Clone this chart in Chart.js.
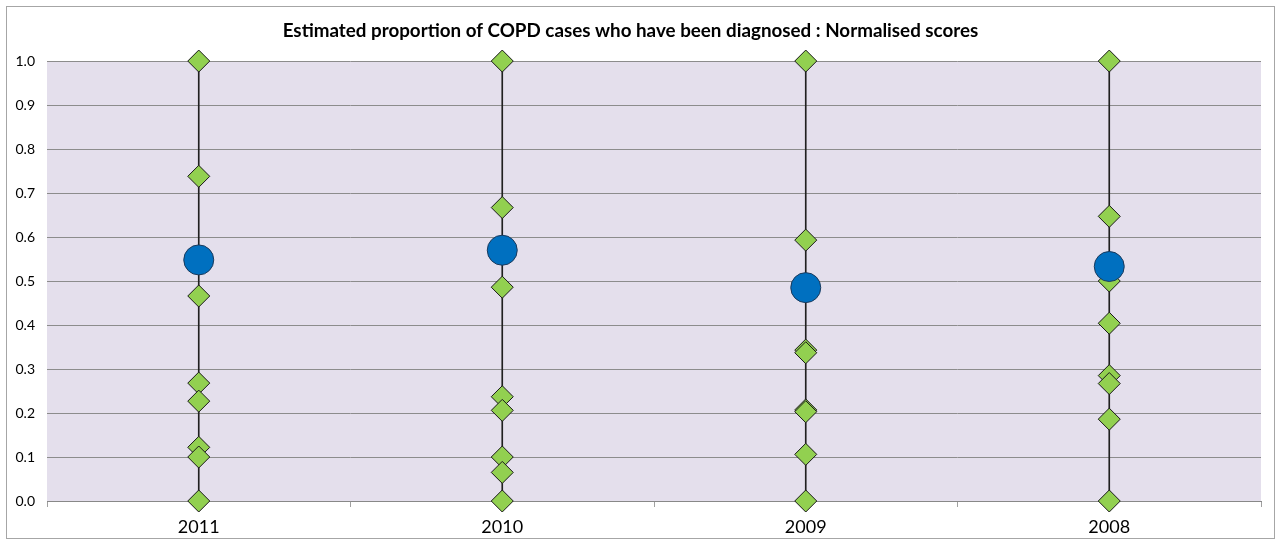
<!DOCTYPE html>
<html>
<head>
<meta charset="utf-8">
<script src="https://cdn.jsdelivr.net/npm/chart.js@4/dist/chart.umd.min.js"></script>
<style>
  html, body { margin: 0; padding: 0; background: #fff; }
  canvas { display: block; }
</style>
</head>
<body>
<canvas id="c" width="1277" height="543"></canvas>
<script>
// ---- Data ----
const titleText = 'Estimated proportion of COPD cases who have been diagnosed : Normalised scores';
const categories = ['2011', '2010', '2009', '2008'];
const scores2011 = [1.0, 0.738, 0.466, 0.268, 0.227, 0.122, 0.100, 0.0];
const scores2010 = [1.0, 0.667, 0.486, 0.237, 0.206, 0.100, 0.065, 0.0];
const scores2009 = [1.0, 0.593, 0.343, 0.337, 0.207, 0.203, 0.106, 0.0];
const scores2008 = [1.0, 0.647, 0.500, 0.404, 0.285, 0.267, 0.186, 0.0];
const overallScore = [0.548, 0.570, 0.485, 0.533];
const yTicks = [0.0, 0.1, 0.2, 0.3, 0.4, 0.5, 0.6, 0.7, 0.8, 0.9, 1.0];

const scoreSets = [scores2011, scores2010, scores2009, scores2008];
const rangeData = scoreSets.map(s => [Math.min(...s), Math.max(...s)]);
const diamondPoints = [];
scoreSets.forEach((s, i) => s.forEach(v => diamondPoints.push({ x: categories[i], y: v })));

const plotBg = {
  id: 'plotBg',
  beforeDraw(chart) {
    const { ctx, chartArea: a } = chart;
    ctx.save();
    ctx.fillStyle = '#E4DFEC';
    ctx.fillRect(a.left, a.top, a.right - a.left, a.bottom - a.top);
    ctx.restore();
  },
  afterDraw(chart) {
    const ctx = chart.ctx;
    ctx.save();
    ctx.strokeStyle = '#A6A6A6';
    ctx.lineWidth = 1;
    ctx.strokeRect(6.5, 6.5, 1268, 532);
    ctx.restore();
  }
};

new Chart(document.getElementById('c'), {
  type: 'bar',
  data: {
    labels: categories,
    datasets: [
      {
        type: 'line',
        label: 'Overall',
        data: overallScore,
        showLine: false,
        clip: false,
        pointStyle: 'circle',
        pointRadius: 15,
        pointBackgroundColor: '#0070C0',
        pointBorderColor: '#1B3A5C',
        pointBorderWidth: 1,
        order: 1
      },
      {
        type: 'line',
        label: 'Indicators',
        data: diamondPoints,
        showLine: false,
        clip: false,
        pointStyle: 'rectRot',
        pointRadius: 11,
        pointBackgroundColor: '#92D050',
        pointBorderColor: '#1A1A1A',
        pointBorderWidth: 1,
        order: 2
      },
      {
        type: 'bar',
        label: 'Range',
        data: rangeData,
        backgroundColor: '#202020',
        barThickness: 1,
        order: 3
      }
    ]
  },
  options: {
    responsive: false,
    animation: false,
    layout: { padding: { left: 0, right: 16, top: 0, bottom: 0 } },
    plugins: {
      legend: { display: false },
      tooltip: { enabled: false },
      title: {
        display: true,
        text: titleText,
        color: '#000',
        font: { family: 'Lato', size: 18.8, weight: 'bold', lineHeight: 1.2 },
        padding: { top: 20, bottom: 18.5 }
      }
    },
    scales: {
      x: {
        offset: true,
        grid: { display: true, drawOnChartArea: false, drawTicks: true, tickLength: 6, offset: true, color: '#A0A0A0' },
        border: { display: true, color: '#888888' },
        ticks: { color: '#000', font: { family: 'Lato', size: 18 }, padding: 9 },
        afterFit(s) { s.height = 42; }
      },
      y: {
        min: 0, max: 1,
        afterBuildTicks(s) { s.ticks = yTicks.map(v => ({ value: v })); },
        grid: { color: '#8C8C8C', drawTicks: false },
        border: { display: false },
        ticks: { color: '#000', font: { family: 'Lato', size: 14 }, padding: 12, callback: v => Number(v).toFixed(1) },
        afterFit(s) { s.width = 47; }
      }
    }
  },
  plugins: [plotBg]
});
</script>
</body>
</html>
